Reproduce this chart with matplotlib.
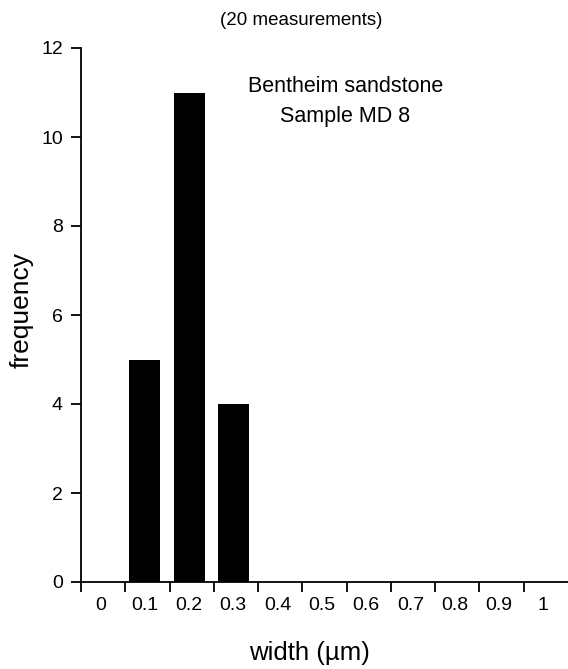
import numpy as np
import matplotlib
matplotlib.use("Agg")
import matplotlib.pyplot as plt

categories = ['0', '0.1', '0.2', '0.3', '0.4', '0.5', '0.6', '0.7', '0.8', '0.9', '1']
counts = [0, 5, 11, 4, 0, 0, 0, 0, 0, 0, 0]
yticks = [0, 2, 4, 6, 8, 10, 12]

plt.rcParams['font.family'] = ['Liberation Sans', 'DejaVu Sans']

W, H = 568, 669
fig = plt.figure(figsize=(W / 100, H / 100), dpi=100)
ax = fig.add_axes([81 / W, 87 / H, 1 - 81 / W, (582 - 48) / H])

idx = np.arange(len(categories))
centers = idx + 0.44
ax.bar(centers, counts, width=0.70, color='black', edgecolor='none', zorder=2)

ax.set_xlim(0, 11)
ax.set_ylim(0, 12)

for s in ['top', 'right']:
    ax.spines[s].set_visible(False)
for s in ['left', 'bottom']:
    ax.spines[s].set_linewidth(1.3)

ax.set_xticks(idx)
ax.set_xticklabels([])
ax.set_xticks(centers, minor=True)
ax.set_xticklabels(categories, minor=True, fontsize=14)
ax.tick_params(axis='x', which='major', direction='out', length=7, width=1.3)
ax.tick_params(axis='x', which='minor', length=0, pad=11)

ax.set_yticks(yticks)
ax.set_yticklabels([str(v) for v in yticks], fontsize=14)
ax.tick_params(axis='y', direction='out', length=7, width=1.3, pad=6)

fig.text(301 / W, 1 - 25 / H, '(20 measurements)', ha='center', va='baseline', fontsize=13.5)
fig.text(345.5 / W, 1 - 92 / H, 'Bentheim sandstone', ha='center', va='baseline', fontsize=15.5)
fig.text(345.5 / W, 1 - 122 / H, 'Sample MD 8', ha='center', va='baseline', fontsize=15.5)

fig.text(22 / W, 1 - 310 / H, 'frequency', rotation=90, ha='center', va='center', fontsize=19)
fig.text(309 / W, 1 - 660 / H, 'width (\u00b5m)', ha='center', va='baseline', fontsize=18.5)

fig.savefig('out.png', dpi=100)
